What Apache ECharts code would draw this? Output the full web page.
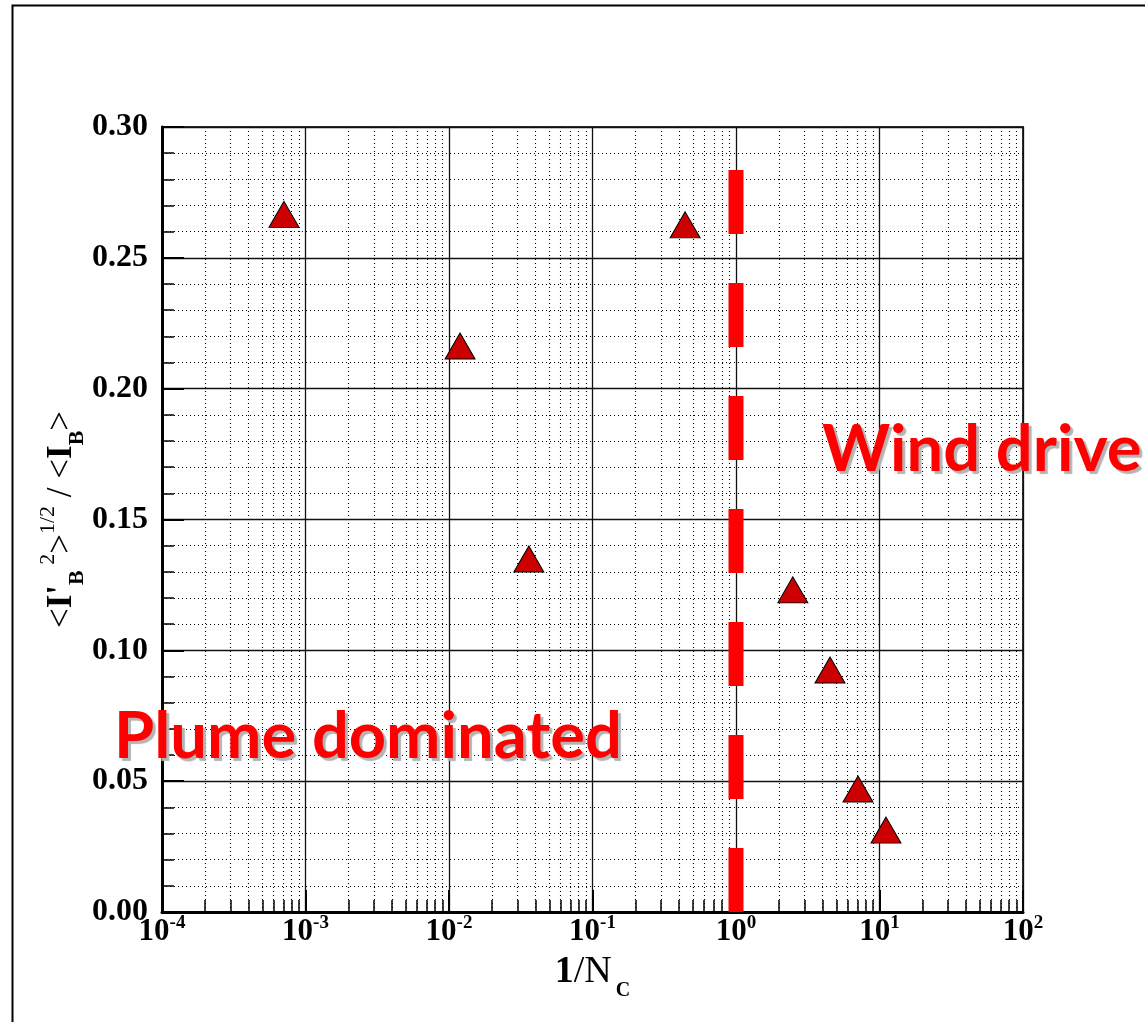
<!DOCTYPE html>
<html>
<head>
<meta charset="utf-8">
<script src="https://cdn.jsdelivr.net/npm/echarts@6/dist/echarts.min.js"></script>
<style>
  html, body { margin: 0; padding: 0; background: #fff; }
  #chart { width: 1145px; height: 1022px; }
</style>
</head>
<body>
<div id="chart"></div>
<script>
// Fluctuation intensity vs. inverse convective number
const invNc = [7.08e-4, 0.442, 0.01194, 0.0360, 2.49, 4.52, 7.08, 11.1];
const intensity = [0.2666, 0.2626, 0.2163, 0.1349, 0.1231, 0.0925, 0.0470, 0.0313];

// Regime boundary at 1/Nc = 1
const boundaryX = 1;
const yRange = [0, 0.30];

// Decade exponents of the log axis and minor steps within each decade
const decadeExponents = [-4, -3, -2, -1, 0, 1, 2];
const minorSteps = [2, 3, 4, 5, 6, 7, 8, 9];

const regimeLabels = ['Plume dominated', 'Wind driven'];

const decadeValues = decadeExponents.map(e => Math.pow(10, e));
const minorValues = [];
decadeExponents.slice(0, -1).forEach(e => {
  minorSteps.forEach(k => minorValues.push(k * Math.pow(10, e)));
});

const serif = "'Liberation Serif', 'Times New Roman', serif";
const script = "'Comic Sans MS', Lato, sans-serif";

const chart = echarts.init(document.getElementById('chart'));

const regimeText = {
  fill: '#ff0000',
  font: "bold 65px " + script,
  textShadowColor: '#b4b4b4',
  textShadowOffsetX: 3,
  textShadowOffsetY: 3,
  textShadowBlur: 1,
  verticalAlign: 'middle'
};

const dotted = { color: '#000', width: 1.1, type: [1, 3] };

chart.setOption({
  backgroundColor: '#fff',
  animation: false,
  grid: {
    left: 162, top: 127, right: 122, bottom: 110,
    show: true, borderColor: '#333', borderWidth: 2
  },
  xAxis: [
    {
      type: 'log', logBase: 10, min: 1e-4, max: 100,
      position: 'bottom',
      name: '{b|1}{r|/N}{sub|C}',
      nameLocation: 'middle', nameGap: 39, nameMoveOverlap: false,
      nameTextStyle: {
        rich: {
          b: { fontFamily: serif, fontWeight: 'bold', fontSize: 38, lineHeight: 42, color: '#000' },
          r: { fontFamily: serif, fontSize: 38, lineHeight: 42, color: '#000' },
          sub: { fontFamily: serif, fontWeight: 'bold', fontSize: 20, lineHeight: 20, padding: [38, 0, 0, 4], color: '#000' }
        }
      },
      axisLine: { show: true, lineStyle: { color: '#000', width: 3 } },
      axisTick: { show: true, inside: true, length: 22, lineStyle: { color: '#000', width: 2 }, customValues: decadeValues },
      axisLabel: {
        show: true, margin: 4, customValues: decadeValues,
        formatter: v => '{b|10}{s|' + Math.round(Math.log10(v)) + '}',
        rich: {
          b: { fontFamily: serif, fontWeight: 'bold', fontSize: 31, lineHeight: 32, color: '#000' },
          s: { fontFamily: serif, fontWeight: 'bold', fontSize: 19, lineHeight: 19, padding: [0, 0, 18, 0], color: '#000' }
        }
      },
      splitLine: { show: true, lineStyle: { color: '#111', width: 1.3 } }
    },
    {
      type: 'log', logBase: 10, min: 1e-4, max: 100,
      position: 'bottom', offset: 0,
      axisLine: { show: false },
      axisTick: { show: true, inside: true, length: 12, lineStyle: { color: '#000', width: 1.5 }, customValues: minorValues },
      axisLabel: { show: false },
      splitLine: { show: true, lineStyle: dotted }
    }
  ],
  yAxis: {
    type: 'value', min: yRange[0], max: yRange[1], interval: 0.05,
    name: '{lt|<}{bi|I\'}{sub|B}{sup| 2}{lt|>}{sup|1/2}{lt| / <}{bi|I}{sub|B}{lt|>}',
    nameLocation: 'middle', nameRotate: 90, nameGap: 80, nameMoveOverlap: false,
    nameTextStyle: {
      rich: {
        lt: { fontFamily: serif, fontSize: 35, lineHeight: 40, color: '#000' },
        bi: { fontFamily: serif, fontWeight: 'bold', fontSize: 35, lineHeight: 40, color: '#000' },
        sub: { fontFamily: serif, fontWeight: 'bold', fontSize: 22, lineHeight: 22, padding: [30, 0, 0, 0], color: '#000' },
        sup: { fontFamily: serif, fontSize: 22, lineHeight: 22, padding: [0, 0, 28, 0], color: '#000' }
      }
    },
    axisLine: { show: true, lineStyle: { color: '#000', width: 3 } },
    axisTick: { show: true, inside: true, length: 22, lineStyle: { color: '#000', width: 2 } },
    minorTick: { show: true, splitNumber: 5, length: 12, lineStyle: { color: '#000', width: 1.5 } },
    axisLabel: {
      margin: 14,
      formatter: v => v.toFixed(2),
      fontFamily: serif, fontWeight: 'bold', fontSize: 32, color: '#000'
    },
    splitLine: { show: true, lineStyle: { color: '#111', width: 1.3 } },
    minorSplitLine: { show: true, lineStyle: dotted }
  },
  series: [
    {
      name: 'boundary',
      type: 'line',
      xAxisIndex: 0, yAxisIndex: 0,
      data: [[boundaryX, yRange[0]], [boundaryX, yRange[1]]],
      symbol: 'none',
      lineStyle: { color: '#ff0000', width: 15, type: [64, 49], cap: 'butt' },
      z: 3
    },
    {
      name: 'intensity',
      type: 'scatter',
      xAxisIndex: 0, yAxisIndex: 0,
      data: invNc.map((x, i) => [x, intensity[i]]),
      symbol: 'triangle',
      symbolSize: [30, 26],
      itemStyle: { color: '#cc0000', borderColor: '#000', borderWidth: 1, opacity: 1 },
      z: 4
    }
  ],
  graphic: [
    {
      type: 'rect', z: -10, silent: true,
      shape: { x: 12.5, y: 5.5, width: 1300, height: 1200 },
      style: { fill: 'none', stroke: '#000', lineWidth: 2 }
    },
    {
      type: 'text', z: 100, x: 114, y: 737,
      style: Object.assign({ text: regimeLabels[0] }, regimeText)
    },
    {
      type: 'text', z: 100, x: 822, y: 450,
      style: Object.assign({ text: regimeLabels[1] }, regimeText)
    }
  ]
});
</script>
</body>
</html>
